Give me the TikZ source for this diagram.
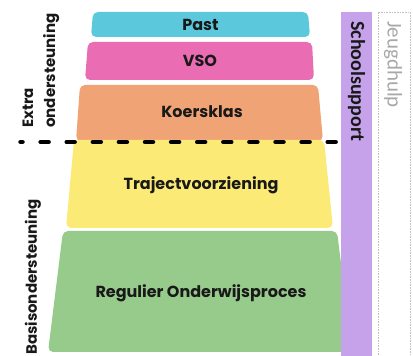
\documentclass[tikz,border=0pt]{standalone}
\usepackage{fontspec}
\setmainfont{Poppins}
\newfontfamily\carlfont{Carlito}
\definecolor{pastc}{HTML}{5CC8DC}
\definecolor{vsoc}{HTML}{EA6CB2}
\definecolor{koersc}{HTML}{F0A374}
\definecolor{trajc}{HTML}{FBEA76}
\definecolor{regc}{HTML}{97CB8B}
\definecolor{purpc}{HTML}{C5A2EA}
\definecolor{greyc}{HTML}{A8A8A8}
\tikzset{
  layer/.style={rounded corners=5pt},
  layertext/.style={font=\fontsize{16}{19}\selectfont\bfseries, text=black!90, inner sep=0pt},
  sidetext/.style={font=\fontsize{15}{18}\selectfont\bfseries, text=black!90, inner sep=0pt, rotate=90, anchor=base west},
}
\begin{document}
\begin{tikzpicture}[x=1pt,y=1pt]
\useasboundingbox (0,0) rectangle (413,356);
% layers
\fill[pastc, layer] (91,319) -- (93,344) -- (308,344) -- (310,319) -- cycle;
\fill[vsoc, layer] (85,276) -- (88,314) -- (312,314) -- (314,276) -- cycle;
\fill[koersc, layer] (76,215) -- (80,271) -- (318,271) -- (323,215) -- cycle;
\fill[trajc, layer] (66,128) -- (74,216) -- (324,216) -- (333,128) -- cycle;
\fill[regc, layer] (48,4) -- (63,125) -- (337,125) -- (352,4) -- cycle;
\node[layertext] (past) at (200.5,331.5) {Past};
\node[layertext] (vso) at (200,295) {VSO};
\node[layertext] (koers) at (202,244.5) {Koersklas};
\node[layertext] (traj) at (201,171) {Trajectvoorziening};
\node[layertext] (reg) at (201,63) {Regulier Onderwijsproces};
% side bars
\fill[purpc] (341,0) rectangle (372,344);
\node[font=\carlfont\fontsize{20}{22}\selectfont\bfseries, text=black!90, inner sep=0pt, rotate=-90, anchor=west] (school) at (356.5,335) {Schoolsupport};
\draw[greyc!70, densely dotted, line width=0.6pt] (378,-2) rectangle (410,344);
\node[font=\carlfont\fontsize{21}{23}\selectfont, text=greyc, inner sep=0pt, rotate=-90, anchor=west] (jeugd) at (393,335) {Jeugdhulp};
% dashed separator
\coordinate (dl) at (20.5,214);
\coordinate (dr) at (340,214);
\draw[line width=4.5pt, line cap=round, dash pattern=on 8pt off 18.1pt, dash phase=6pt] (dl) -- (dr);
% left labels
\node[sidetext] (extra) at (33,228) {Extra};
\node[sidetext] (onder) at (55,228) {ondersteuning};
\node[sidetext] (basis) at (37,1) {Basisondersteuning};
\end{tikzpicture}
\end{document}
